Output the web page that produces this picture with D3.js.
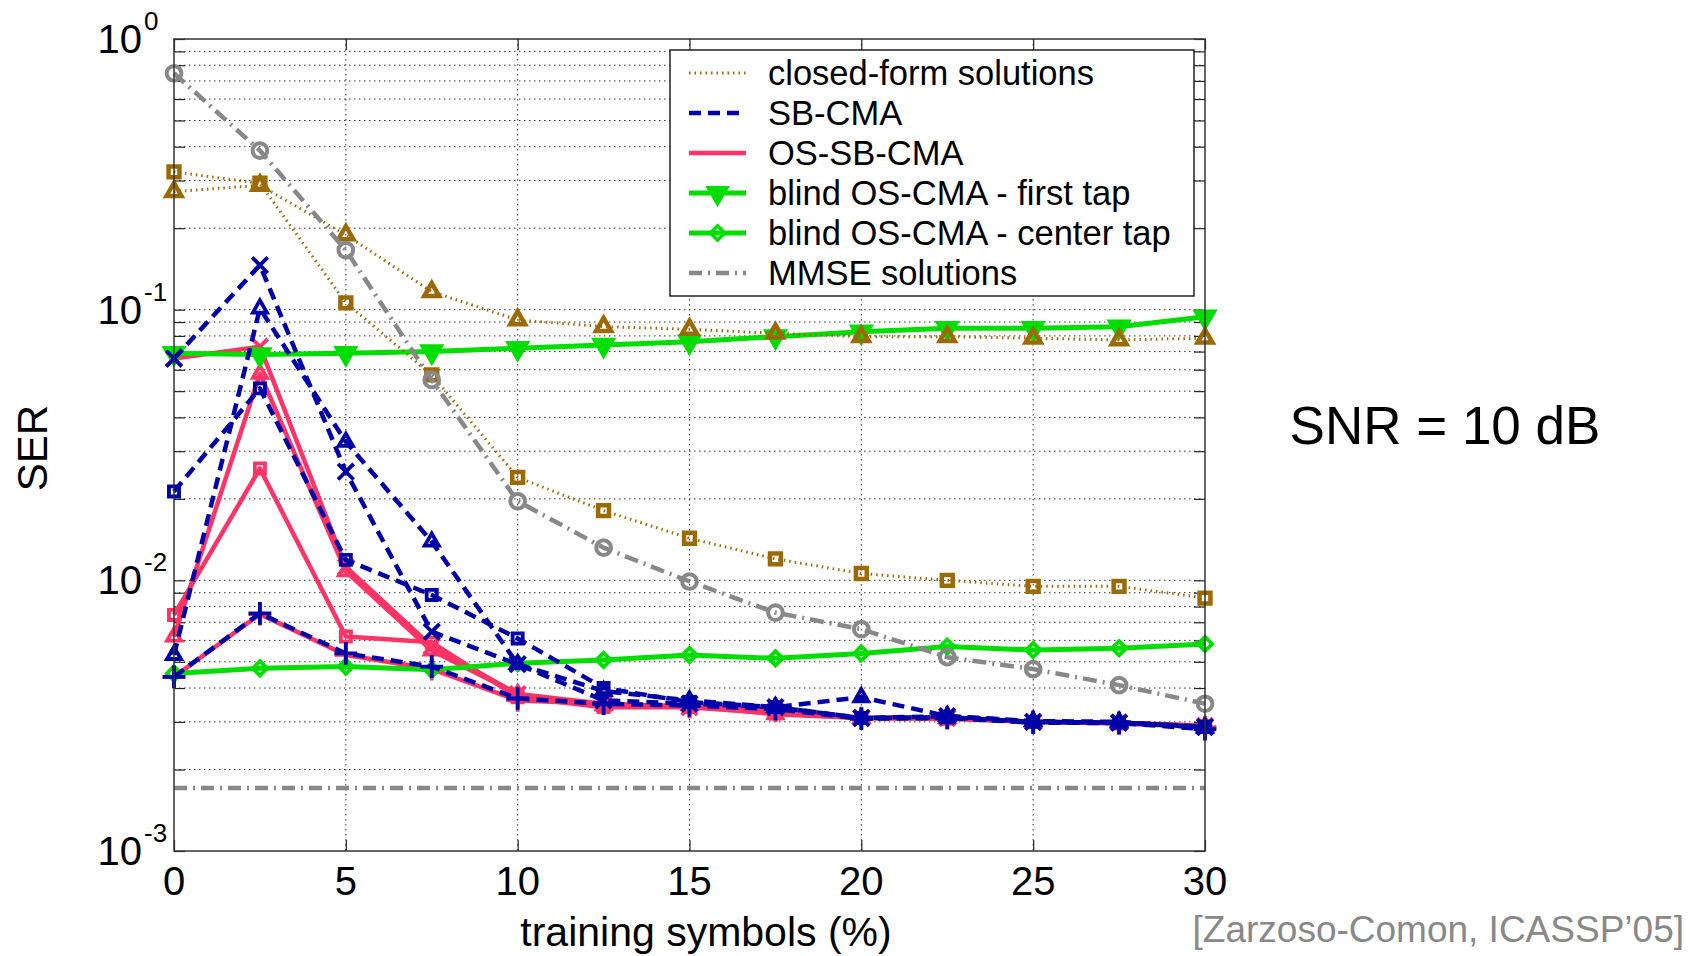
<!DOCTYPE html>
<html>
<head>
<meta charset="utf-8">
<script src="https://cdn.jsdelivr.net/npm/d3@7"></script>
<style>
  body { margin: 0; background: #fff; }
  text { font-family: "Liberation Sans", Arial, sans-serif; }
</style>
</head>
<body>
<svg id="chart" width="1706" height="956"></svg>
<script>
// x values (training symbols, %)
const trainingPct = [0, 2.5, 5, 7.5, 10, 12.5, 15, 17.5, 20, 22.5, 25, 27.5, 30];

// closed-form solutions
const closedFormSquare   = [0.323, 0.293, 0.106, 0.0574, 0.0240, 0.0181, 0.0143, 0.0120, 0.0106, 0.0100, 0.0095, 0.0095, 0.0086];
const closedFormTriangle = [0.273, 0.288, 0.189, 0.1165, 0.0916, 0.0866, 0.0846, 0.0818, 0.0795, 0.0795, 0.0784, 0.0773, 0.0784];

// MMSE solutions
const mmseCircle = [0.747, 0.387, 0.166, 0.055, 0.0196, 0.0132, 0.0099, 0.0076, 0.0066, 0.0052, 0.0047, 0.0041, 0.0035];
const mmseBound = 0.00171;

// blind OS-CMA
const firstTap  = [0.069, 0.0683, 0.069, 0.070, 0.072, 0.074, 0.0761, 0.0795, 0.0829, 0.0853, 0.0853, 0.0865, 0.0942];
const centerTap = [0.00453, 0.00473, 0.0048, 0.00467, 0.00494, 0.00508, 0.0053, 0.00515, 0.00537, 0.00569, 0.00553, 0.00561, 0.00582];

// SB-CMA
const sbCross    = [0.066, 0.146, 0.0252, 0.00646, 0.0049, 0.0036, 0.0035, 0.0034, 0.0031, 0.00315, 0.0030, 0.00298, 0.00287];
const sbTriangle = [0.0053, 0.101, 0.0325, 0.0139, 0.0049, 0.0039, 0.0036, 0.0034, 0.0037, 0.00315, 0.00302, 0.0030, 0.00285];
const sbSquare   = [0.0213, 0.0512, 0.0119, 0.00883, 0.0061, 0.0040, 0.00355, 0.0034, 0.0031, 0.00312, 0.0030, 0.00298, 0.00288];
const sbPlus     = [0.0044, 0.00755, 0.00537, 0.0048, 0.00366, 0.0035, 0.00345, 0.00335, 0.00308, 0.0031, 0.00298, 0.00297, 0.00282];

// OS-SB-CMA
const osCross    = [0.066, 0.073, 0.0112, 0.0057, 0.0038, 0.0035, 0.0034, 0.0033, 0.0031, 0.0031, 0.0030, 0.00298, 0.0029];
const osTriangle = [0.0062, 0.058, 0.0108, 0.0055, 0.0038, 0.00345, 0.00345, 0.0032, 0.0031, 0.0031, 0.0030, 0.00297, 0.0029];
const osSquare   = [0.00745, 0.0259, 0.0062, 0.0059, 0.0037, 0.0034, 0.0034, 0.00322, 0.0031, 0.00308, 0.0030, 0.00296, 0.00288];
const osPlus     = [0.0044, 0.0075, 0.0053, 0.0047, 0.0036, 0.0035, 0.0034, 0.0033, 0.0031, 0.0031, 0.0030, 0.00297, 0.00287];

const xTicks = [0, 5, 10, 15, 20, 25, 30];
const yDecades = [0, -1, -2, -3];
const legendLabels = ["closed-form solutions", "SB-CMA", "OS-SB-CMA",
  "blind OS-CMA - first tap", "blind OS-CMA - center tap", "MMSE solutions"];

const brown = "#9c6a04", blue = "#0000a8", red = "#ff3366", green = "#00dd00", gray = "#888888";

const svg = d3.select("#chart");
const pLeft = 174, pRight = 1205, pTop = 39, pBottom = 851;

const x = d3.scaleLinear().domain([0, 30]).range([pLeft, pRight]);
const y = d3.scaleLog().domain([1e-3, 1]).range([pBottom, pTop]);

// grid
const grid = svg.append("g").attr("stroke", "#333").attr("stroke-width", 1)
  .attr("stroke-dasharray", "1.5,3.5");
grid.selectAll(".gy").data(y.ticks().filter(v => v > 1e-3 && v < 1))
  .join("line")
    .attr("x1", pLeft).attr("x2", pRight)
    .attr("y1", d => y(d)).attr("y2", d => y(d));
grid.selectAll(".gx").data(xTicks.slice(1, -1))
  .join("line")
    .attr("y1", pTop).attr("y2", pBottom)
    .attr("x1", d => x(d)).attr("x2", d => x(d));

// axes, ticks pointing inward
function styleAxis(g) {
  g.select(".domain").remove();
  g.selectAll(".tick line").attr("stroke", "#222").attr("stroke-width", 1.2);
  g.selectAll(".tick text").remove();
}
svg.append("g").attr("transform", `translate(${pLeft},0)`)
  .call(d3.axisLeft(y).tickValues(y.ticks()).tickSize(-11)).call(styleAxis);
svg.append("g").attr("transform", `translate(${pRight},0)`)
  .call(d3.axisRight(y).tickValues(y.ticks()).tickSize(-11)).call(styleAxis);
svg.append("g").attr("transform", `translate(0,${pBottom})`)
  .call(d3.axisBottom(x).tickValues(xTicks).tickSize(-11)).call(styleAxis);
svg.append("g").attr("transform", `translate(0,${pTop})`)
  .call(d3.axisTop(x).tickValues(xTicks).tickSize(-11)).call(styleAxis);

// tick labels
svg.append("g").selectAll("text").data(xTicks).join("text")
  .attr("x", d => x(d)).attr("y", 895)
  .attr("text-anchor", "middle").attr("font-size", 40)
  .text(d => d);

const yl = svg.append("g").selectAll("g").data(yDecades).join("g");
yl.append("text")
  .attr("x", 142).attr("y", d => y(Math.pow(10, d)) + 14)
  .attr("text-anchor", "end").attr("font-size", 40)
  .text("10");
yl.append("text")
  .attr("x", 144).attr("y", d => y(Math.pow(10, d)) - 9)
  .attr("font-size", 26)
  .text(d => d === 0 ? "0" : "-" + Math.abs(d));

// axis titles
svg.append("text").attr("x", 706).attr("y", 946)
  .attr("text-anchor", "middle").attr("font-size", 41)
  .text("training symbols (%)");
svg.append("text")
  .attr("transform", "translate(47,448) rotate(-90)")
  .attr("text-anchor", "middle").attr("font-size", 42)
  .text("SER");

const line = d3.line().x((d, i) => x(trainingPct[i])).y(d => y(d));

function drawSeries(values, color, width, dash, marker, filled) {
  const g = svg.append("g");
  g.append("path").datum(values)
    .attr("d", line)
    .attr("fill", "none")
    .attr("stroke", color)
    .attr("stroke-width", width)
    .attr("stroke-dasharray", dash)
    .attr("stroke-linejoin", "round");
  if (!marker) return;
  g.selectAll("path.m").data(values).join("path")
    .attr("class", "m")
    .attr("transform", (d, i) => `translate(${x(trainingPct[i])},${y(d)})` + (marker.rot ? ` rotate(${marker.rot})` : ""))
    .attr("d", d3.symbol().type(marker.type).size(marker.size))
    .attr("fill", filled ? color : "none")
    .attr("stroke", color)
    .attr("stroke-width", marker.sw || 3.8);
}

const mSquare = {type: d3.symbolSquare2, size: 130};
const mBrownSquare = {type: d3.symbolSquare2, size: 150, sw: 4.5};
const mBrownTri = {type: d3.symbolTriangle2, size: 160, sw: 4.5};
const mTri = {type: d3.symbolTriangle2, size: 140};
const mDown = {type: d3.symbolTriangle, size: 150, rot: 180};
const mTimes = {type: d3.symbolTimes, size: 160};
const mPlus = {type: d3.symbolPlus, size: 170};
const mCircle = {type: d3.symbolCircle, size: 170, sw: 4};
const mDiamond = {type: d3.symbolDiamond2, size: 130};

// OS-SB-CMA
drawSeries(osCross, red, 4.5, null, mTimes);
drawSeries(osTriangle, red, 4.5, null, mTri);
drawSeries(osSquare, red, 4.5, null, mSquare);
drawSeries(osPlus, red, 4.5, null, mPlus);

// blind OS-CMA
drawSeries(firstTap, green, 5, null, mDown, true);
drawSeries(centerTap, green, 5, null, mDiamond);

// SB-CMA
drawSeries(sbCross, blue, 4.5, "12,7", mTimes);
drawSeries(sbTriangle, blue, 4.5, "12,7", mTri);
drawSeries(sbSquare, blue, 4.5, "12,7", mSquare);
drawSeries(sbPlus, blue, 4.5, "12,7", mPlus);

// closed-form
drawSeries(closedFormSquare, brown, 3, "1.5,4", mBrownSquare);
drawSeries(closedFormTriangle, brown, 3, "1.5,4", mBrownTri);

// MMSE
drawSeries(mmseCircle, gray, 4.5, "14,6,2,6", mCircle);
svg.append("line")
  .attr("x1", x(0)).attr("x2", x(30))
  .attr("y1", y(mmseBound)).attr("y2", y(mmseBound))
  .attr("stroke", gray).attr("stroke-width", 4.5)
  .attr("stroke-dasharray", "13,6,2,6");

// frame
svg.append("rect")
  .attr("x", pLeft).attr("y", pTop)
  .attr("width", pRight - pLeft).attr("height", pBottom - pTop)
  .attr("fill", "none").attr("stroke", "#333").attr("stroke-width", 1.5);

// legend
const legendStyles = [
  {color: brown, width: 3, dash: "1.5,4"},
  {color: blue, width: 4.5, dash: "12,7"},
  {color: red, width: 4.5, dash: null},
  {color: green, width: 5, dash: null, marker: mDown, filled: true},
  {color: green, width: 5, dash: null, marker: mDiamond},
  {color: gray, width: 4.5, dash: "13,6,2,6"}
];
const lg = svg.append("g");
lg.append("rect").attr("x", 670).attr("y", 50).attr("width", 524).attr("height", 246)
  .attr("fill", "#fff").attr("stroke", "#222").attr("stroke-width", 1.5);
const rows = lg.selectAll("g").data(legendLabels.map((label, i) => ({label, ...legendStyles[i]})))
  .join("g")
  .attr("transform", (d, i) => `translate(0,${73 + i * 40})`);
rows.append("line")
  .attr("x1", 689).attr("x2", 746)
  .attr("stroke", d => d.color)
  .attr("stroke-width", d => d.width)
  .attr("stroke-dasharray", d => d.dash);
rows.filter(d => d.marker).append("path")
  .attr("transform", d => "translate(717.5,0)" + (d.marker.rot ? " rotate(180)" : ""))
  .attr("d", d => d3.symbol().type(d.marker.type).size(d.marker.size)())
  .attr("fill", d => d.filled ? d.color : "none")
  .attr("stroke", d => d.color).attr("stroke-width", 3.5);
rows.append("text")
  .attr("x", 768).attr("y", 12)
  .attr("font-size", 34.5)
  .text(d => d.label);

// annotations
svg.append("text").attr("x", 1445).attr("y", 444)
  .attr("text-anchor", "middle").attr("font-size", 53)
  .text("SNR = 10 dB");
svg.append("text").attr("x", 1684).attr("y", 942)
  .attr("text-anchor", "end").attr("font-size", 37).attr("fill", "#888")
  .text("[Zarzoso-Comon, ICASSP\u201905]");
</script>
</body>
</html>
